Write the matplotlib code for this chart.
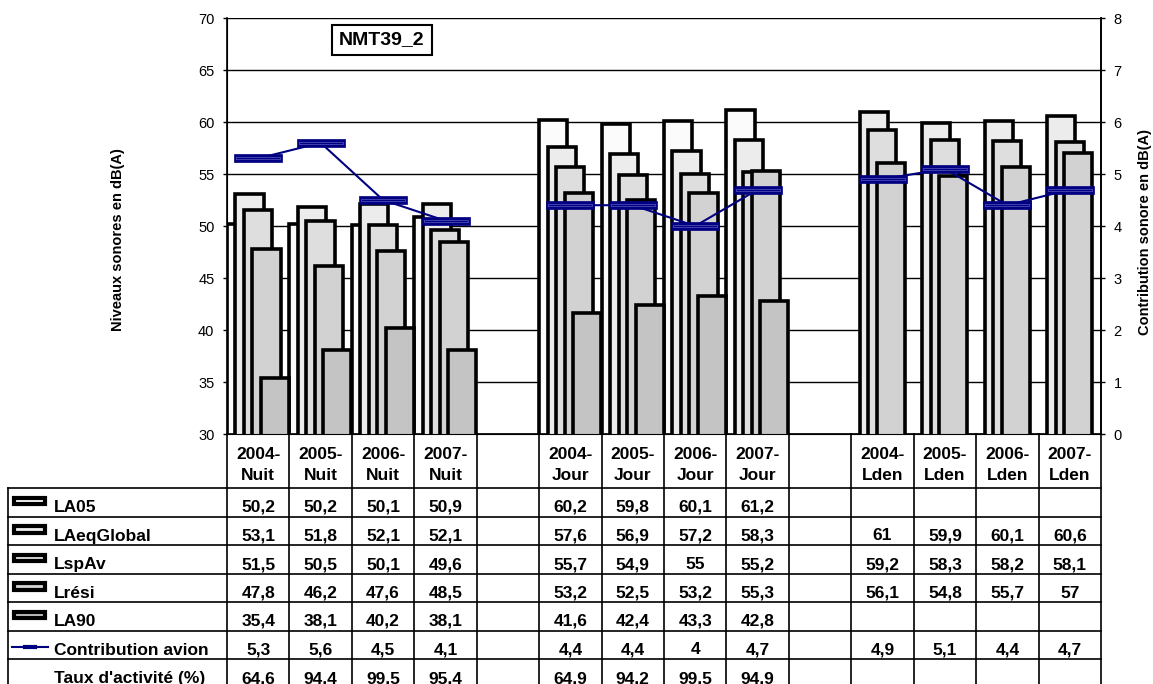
import matplotlib
matplotlib.use('Agg')
import matplotlib.pyplot as plt
import numpy as np
from matplotlib.lines import Line2D
from matplotlib.patches import Rectangle
from matplotlib.transforms import blended_transform_factory

plt.rcParams['font.family'] = ['Liberation Sans', 'DejaVu Sans']

nan = np.nan
# categories (empty ones are the gaps between groups)
cats = ['2004-Nuit', '2005-Nuit', '2006-Nuit', '2007-Nuit', '',
        '2004-Jour', '2005-Jour', '2006-Jour', '2007-Jour', '',
        '2004-Lden', '2005-Lden', '2006-Lden', '2007-Lden']
la05 = [50.2, 50.2, 50.1, 50.9, nan, 60.2, 59.8, 60.1, 61.2, nan, nan, nan, nan, nan]
laeq = [53.1, 51.8, 52.1, 52.1, nan, 57.6, 56.9, 57.2, 58.3, nan, 61, 59.9, 60.1, 60.6]
lspav = [51.5, 50.5, 50.1, 49.6, nan, 55.7, 54.9, 55, 55.2, nan, 59.2, 58.3, 58.2, 58.1]
lresi = [47.8, 46.2, 47.6, 48.5, nan, 53.2, 52.5, 53.2, 55.3, nan, 56.1, 54.8, 55.7, 57]
la90 = [35.4, 38.1, 40.2, 38.1, nan, 41.6, 42.4, 43.3, 42.8, nan, nan, nan, nan, nan]
contrib = [5.3, 5.6, 4.5, 4.1, nan, 4.4, 4.4, 4, 4.7, nan, 4.9, 5.1, 4.4, 4.7]
taux = [64.6, 94.4, 99.5, 95.4, nan, 64.9, 94.2, 99.5, 94.9, nan, nan, nan, nan, nan]

series_names = ['LA05', 'LAeqGlobal', 'LspAv', 'Lrési', 'LA90']
series_vals = [la05, laeq, lspav, lresi, la90]
series_cols = ['#fbfbfb', '#ececec', '#dedede', '#d2d2d2', '#c4c4c4']
navy = '#000080'

W, H = 1153, 684
fig = plt.figure(figsize=(W / 100, H / 100), dpi=100)
ax = fig.add_axes([227 / W, 1 - 434 / H, 874 / W, 416 / H])

x = np.arange(len(cats))
step = 0.136   # shift between overlapping bars
bw = 0.45
for k, (vals, col) in enumerate(zip(series_vals, series_cols)):
    ax.bar(x - 0.5 + k * step, vals, width=bw, align='edge', color=col,
           edgecolor='black', linewidth=2.6, zorder=2 + k)

ax.set_xlim(-0.5, len(cats) - 0.5)
ax.set_ylim(30, 70)
ax.set_yticks(np.arange(30, 71, 5))
ax.set_xticks([])
ax.set_axisbelow(True)
ax.yaxis.grid(True, color='black', linewidth=1)
ax.tick_params(axis='y', direction='out', length=3, width=1, pad=6, labelsize=10.5)
for s in ax.spines.values():
    s.set_linewidth(1.2)
ax.spines['top'].set_visible(False)

ax2 = ax.twinx()
ax2.set_ylim(0, 8)
ax2.set_yticks(range(0, 9))
ax2.tick_params(axis='y', direction='out', length=3, width=1, pad=6, labelsize=10.5)
ax2.spines['top'].set_visible(False)
ax2.spines['right'].set_linewidth(1.2)
mk_out = [(-3, -0.5), (3, -0.5), (3, 0.5), (-3, 0.5), (-3, -0.5)]
mk_in = [(-3, -0.2), (3, -0.2), (3, 0.2), (-3, 0.2), (-3, -0.2)]
ax2.plot(x, contrib, color=navy, lw=1.5, marker=mk_out, markersize=34,
         mfc=navy, mec=navy, mew=0.5, zorder=10)
ax2.plot(x, contrib, ls='none', marker=mk_in, markersize=32,
         mfc='none', mec='#5a5ac4', mew=0.5, zorder=11)

fig.text(118 / W, 1 - 240 / H, 'Niveaux sonores en dB(A)', rotation=90,
         ha='center', va='center', fontsize=10.5, fontweight='bold')
fig.text(1145 / W, 1 - 232 / H, 'Contribution sonore en dB(A)', rotation=90,
         ha='center', va='center', fontsize=10.5, fontweight='bold')
fig.text(382 / W, 1 - 40 / H, 'NMT39_2', ha='center', va='center',
         fontsize=14, fontweight='bold',
         bbox=dict(boxstyle='square,pad=0.35', fc='white', ec='black', lw=1.5))

# data table under the chart
tr = blended_transform_factory(ax.transData, fig.transFigure)
def fy(py):
    return 1 - py / H

lw_t = 1.2
row_top = 488
row_h = 28.5
n_rows = 7
for i in range(n_rows + 1):
    yy = fy(row_top + i * row_h)
    fig.add_artist(Line2D([8 / W, 1101 / W], [yy, yy], transform=fig.transFigure,
                          color='black', lw=lw_t))
fig.add_artist(Line2D([8 / W, 8 / W], [fy(row_top), fy(700)], transform=fig.transFigure,
                      color='black', lw=lw_t))
for i in range(len(cats) + 1):
    fig.add_artist(Line2D([i - 0.5, i - 0.5], [fy(434), fy(700)], transform=tr,
                          color='black', lw=lw_t))

for i, c in enumerate(cats):
    if c:
        a, b = c.split('-')
        fig.text(i, fy(459), a + '-', transform=tr, ha='center', va='baseline',
                 fontsize=12.5, fontweight='bold')
        fig.text(i, fy(480), b, transform=tr, ha='center', va='baseline',
                 fontsize=12.5, fontweight='bold')

def fmt(v):
    if np.isnan(v):
        return ''
    return '{:g}'.format(v).replace('.', ',')

row_names = series_names + ['Contribution avion', "Taux d'activité (%)"]
row_vals = series_vals + [contrib, taux]
for r, (name, vals) in enumerate(zip(row_names, row_vals)):
    top = row_top + r * row_h
    fig.text(54 / W, fy(top + 24.5), name, ha='left', va='baseline',
             fontsize=12.5, fontweight='bold')
    for i, v in enumerate(vals):
        fig.text(i, fy(top + 24), fmt(v), transform=tr, ha='center',
                 va='baseline', fontsize=12.5, fontweight='bold')
    if r < 5:
        fig.add_artist(Rectangle((14 / W, fy(top + 16)), 31 / W, 6.5 / H,
                                 transform=fig.transFigure, fc=series_cols[r],
                                 ec='black', lw=3))
    elif r == 5:
        yk = fy(top + 16.5)
        fig.add_artist(Line2D([12 / W, 48 / W], [yk, yk], transform=fig.transFigure,
                              color=navy, lw=1.5))
        fig.add_artist(Line2D([25 / W, 35 / W], [yk, yk], transform=fig.transFigure,
                              color=navy, lw=3))

fig.savefig('out.png', dpi=100)
